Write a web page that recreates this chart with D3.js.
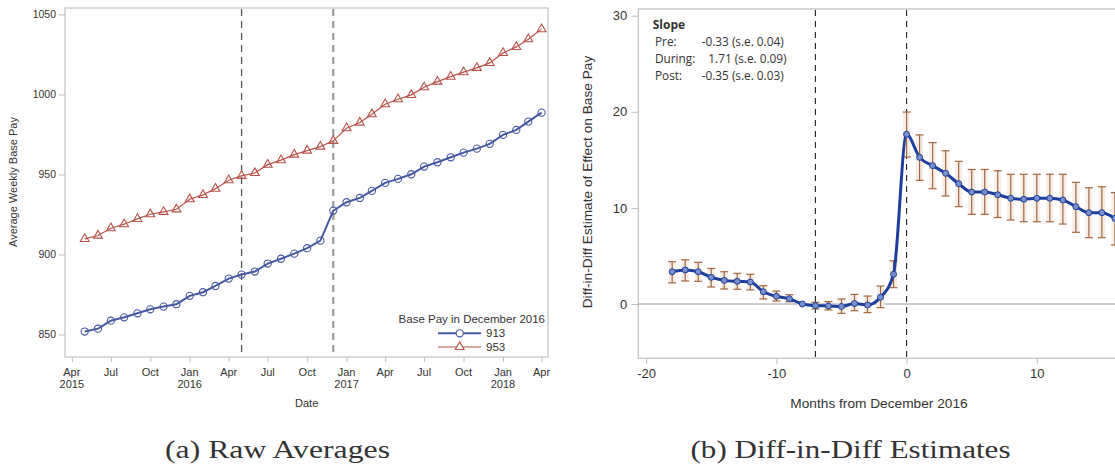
<!DOCTYPE html>
<html>
<head>
<meta charset="utf-8">
<script src="https://cdn.jsdelivr.net/npm/d3@7"></script>
<style>
  body { margin: 0; background: #fff; }
  svg { display: block; }
  text { font-family: "Liberation Sans", Arial, sans-serif; fill: #333; }
</style>
</head>
<body>
<div id="container"></div>
<script>
/* DATA - panel (a): average weekly base pay, by month */
const months = [
  "2015-05","2015-06","2015-07","2015-08","2015-09","2015-10","2015-11","2015-12",
  "2016-01","2016-02","2016-03","2016-04","2016-05","2016-06","2016-07","2016-08",
  "2016-09","2016-10","2016-11","2016-12","2017-01","2017-02","2017-03","2017-04",
  "2017-05","2017-06","2017-07","2017-08","2017-09","2017-10","2017-11","2017-12",
  "2018-01","2018-02","2018-03","2018-04"
];
const pay913 = [851.8, 853.6, 858.6, 860.7, 863.2, 865.7, 867.4, 868.9,
  874.1, 876.4, 880.3, 884.9, 887.4, 889.3, 894.3, 897.3, 900.5, 903.9, 908.6, 927.4,
  932.6, 935.3, 939.7, 944.7, 947.2, 950.1, 954.9, 957.6, 960.7, 963.6, 966.1, 969.1,
  974.7, 977.8, 983.0, 988.6];
const pay953 = [909.7, 911.8, 916.4, 918.9, 922.2, 925.1, 926.6, 928.2,
  934.5, 937.2, 941.1, 946.4, 949.1, 950.9, 956.1, 958.9, 962.4, 964.9, 967.4, 971.0,
  978.9, 982.4, 987.6, 993.9, 997.0, 999.7, 1004.5, 1008.0, 1011.1, 1013.9, 1016.6, 1019.7,
  1025.9, 1029.7, 1034.5, 1040.8];
const eventMonthsA = ["2016-05", "2016-12"];
const yTicksA = [850, 900, 950, 1000, 1050];
const legendTitle = "Base Pay in December 2016";
const seriesNames = ["913", "953"];

/* DATA - panel (b): diff-in-diff estimates */
const relMonths = [-18,-17,-16,-15,-14,-13,-12,-11,-10,-9,-8,-7,-6,-5,-4,-3,-2,-1,
  0,1,2,3,4,5,6,7,8,9,10,11,12,13,14,15,16];
const estimate = [3.36, 3.54, 3.36, 2.78, 2.46, 2.36, 2.29, 1.28, 0.80, 0.55, 0, -0.17, -0.2, -0.25, 0.05, -0.1, 0.7, 3.09,
  17.66, 15.26, 14.4, 13.6, 12.52, 11.65, 11.65, 11.37, 11.0, 10.9, 11.0, 11.0, 10.82, 10.13, 9.5, 9.5, 8.9];
const ciLow = [2.2, 2.4, 2.36, 1.77, 1.56, 1.53, 1.46, 0.52, 0.31, 0.24, null, -0.52, -0.62, -0.97, -0.7, -0.9, -0.38, 1.7,
  15.3, 12.87, 12.0, 11.24, 10.13, 9.33, 9.33, 9.0, 8.74, 8.56, 8.56, 8.56, 8.32, 7.46, 6.9, 6.9, 6.14];
const ciHigh = [4.4, 4.6, 4.34, 3.7, 3.36, 3.19, 3.09, 1.9, 1.35, 0.97, null, 0.18, 0.24, 0.52, 1.0, 0.83, 1.87, 4.5,
  19.98, 17.6, 16.8, 15.95, 14.85, 14.0, 14.0, 13.87, 13.5, 13.5, 13.5, 13.5, 13.5, 12.66, 12.1, 12.2, 11.6];
const eventMonthsB = [-7, 0];
const xTicksB = [-20, -10, 0, 10];
const yTicksB = [0, 10, 20, 30];
const slopeRows = [["Pre:", "-0.33 (s.e. 0.04)"], ["During:", "1.71 (s.e. 0.09)"], ["Post:", "-0.35 (s.e. 0.03)"]];
const captions = ["(a) Raw Averages", "(b) Diff-in-Diff Estimates"];

const width = 1115, height = 469;
const svg = d3.select("#container").append("svg")
  .attr("width", width).attr("height", height);

/* ---------- panel (a) ---------- */
const A = { left: 65, right: 548, top: 8, bottom: 357 };
const parseMonth = d3.utcParse("%Y-%m");
const blue = "#4658a2", red = "#b8524a";

const xA = d3.scaleUtc()
  .domain([new Date(Date.UTC(2015, 2, 16)), new Date(Date.UTC(2018, 3, 16))])
  .range([A.left, A.right]);
const yA = d3.scaleLinear().domain([835.9, 1054]).range([A.bottom, A.top]);

const gA = svg.append("g");

gA.append("rect")
  .attr("x", A.left).attr("y", A.top)
  .attr("width", A.right - A.left).attr("height", A.bottom - A.top)
  .attr("fill", "none").attr("stroke", "#c6c6c6").attr("stroke-width", 1.3);

const yAxisA = gA.append("g")
  .attr("transform", `translate(${A.left},0)`)
  .call(d3.axisLeft(yA).tickValues(yTicksA).tickSize(6).tickPadding(3).tickFormat(d => String(d)));
yAxisA.select(".domain").remove();
yAxisA.selectAll("line").attr("stroke", "#bdbdbd");
yAxisA.selectAll("text").style("font-size", "10.5px").attr("fill", "#333");

const xTickDates = d3.utcMonth.every(3).range(new Date(Date.UTC(2015, 3, 1)), new Date(Date.UTC(2018, 4, 1)));
const xAxisA = gA.append("g")
  .attr("transform", `translate(0,${A.bottom})`)
  .call(d3.axisBottom(xA).tickValues(xTickDates).tickSize(5).tickFormat(() => ""));
xAxisA.select(".domain").remove();
xAxisA.selectAll("line").attr("stroke", "#bdbdbd");

const monthFmt = d3.utcFormat("%b"), yearFmt = d3.utcFormat("%Y");
xTickDates.forEach((d, i) => {
  const t = gA.append("text")
    .attr("text-anchor", "middle")
    .style("font-size", "11px");
  t.append("tspan").attr("x", xA(d)).attr("y", 375.5).text(monthFmt(d));
  if (i === 0 || d.getUTCMonth() === 0) {
    t.append("tspan").attr("x", xA(d)).attr("y", 387.5).text(yearFmt(d));
  }
});

// event lines
eventMonthsA.forEach((m, i) => {
  gA.append("line")
    .attr("x1", xA(parseMonth(m))).attr("x2", xA(parseMonth(m)))
    .attr("y1", A.top + 1).attr("y2", A.bottom)
    .attr("stroke", i === 0 ? "#555" : "#9a9a9a")
    .attr("stroke-width", i === 0 ? 1.3 : 2.2)
    .attr("stroke-dasharray", "7,5");
});

const lineA = (vals) => d3.line()
  .x((d, i) => xA(parseMonth(months[i])))
  .y(d => yA(d))(vals);

gA.append("path").attr("d", lineA(pay953))
  .attr("fill", "none").attr("stroke", red).attr("stroke-width", 1.2);
gA.append("path").attr("d", lineA(pay913))
  .attr("fill", "none").attr("stroke", blue).attr("stroke-width", 2);

const tri = d3.symbol().type(d3.symbolTriangle).size(34);
gA.selectAll("path.tri")
  .data(pay953)
  .join("path")
  .attr("class", "tri")
  .attr("d", tri)
  .attr("transform", (d, i) => `translate(${xA(parseMonth(months[i]))},${yA(d)})`)
  .attr("fill", "none").attr("stroke", red).attr("stroke-width", 1.1);

gA.selectAll("circle.c913")
  .data(pay913)
  .join("circle")
  .attr("class", "c913")
  .attr("cx", (d, i) => xA(parseMonth(months[i])))
  .attr("cy", d => yA(d))
  .attr("r", 3.6)
  .attr("fill", "none").attr("stroke", blue).attr("stroke-width", 1.1);

// axis titles
gA.append("text")
  .attr("transform", "translate(17,182) rotate(-90)")
  .attr("text-anchor", "middle")
  .style("font-size", "11px")
  .text("Average Weekly Base Pay");
gA.append("text")
  .attr("x", 306.7).attr("y", 406.5)
  .attr("text-anchor", "middle")
  .style("font-size", "11px")
  .text("Date");

// legend
gA.append("text")
  .attr("x", 545).attr("y", 322.5)
  .attr("text-anchor", "end")
  .style("font-size", "11.5px")
  .text(legendTitle);
[blue, red].forEach((c, i) => {
  const ly = 333.3 + i * 13.7;
  gA.append("line").attr("x1", 438).attr("x2", 481).attr("y1", ly).attr("y2", ly)
    .attr("stroke", c).attr("stroke-width", i === 0 ? 2 : 1.2);
  if (i === 0) {
    gA.append("circle").attr("cx", 459.7).attr("cy", ly).attr("r", 3.6)
      .attr("fill", "#fff").attr("stroke", c).attr("stroke-width", 1.1);
  } else {
    gA.append("path").attr("d", tri).attr("transform", `translate(459.7,${ly})`)
      .attr("fill", "#fff").attr("stroke", c).attr("stroke-width", 1.1);
  }
  gA.append("text").attr("x", 486).attr("y", ly + 4)
    .style("font-size", "11.5px").text(seriesNames[i]);
});

/* ---------- panel (b) ---------- */
const B = { left: 638.3, right: 1128, top: 9, bottom: 358.3 };
const xB = d3.scaleLinear().domain([-20.6, 17]).range([B.left, B.left + 37.6 * 13.023]);
const yB = d3.scaleLinear().domain([-5.65, 30.7]).range([B.bottom, B.top]);
const navy = "#1d3f9b", brown = "#a3673f";

const gB = svg.append("g");

gB.append("rect")
  .attr("x", B.left).attr("y", B.top)
  .attr("width", B.right - B.left).attr("height", B.bottom - B.top)
  .attr("fill", "none").attr("stroke", "#c8c8c8").attr("stroke-width", 1.5);

const yAxisB = gB.append("g")
  .attr("transform", `translate(${B.left},0)`)
  .call(d3.axisLeft(yB).tickValues(yTicksB).tickSize(7).tickPadding(4).tickFormat(d => String(d)));
yAxisB.select(".domain").remove();
yAxisB.selectAll("line").attr("stroke", "#bdbdbd");
yAxisB.selectAll("text").style("font-size", "13px").attr("fill", "#333");

const xAxisB = gB.append("g")
  .attr("transform", `translate(0,${B.bottom})`)
  .call(d3.axisBottom(xB).tickValues(xTicksB).tickSize(6).tickPadding(4).tickFormat(d => String(d)));
xAxisB.select(".domain").remove();
xAxisB.selectAll("line").attr("stroke", "#bdbdbd");
xAxisB.selectAll("text").style("font-size", "13px").attr("fill", "#333");

// zero reference line
gB.append("line")
  .attr("x1", B.left).attr("x2", B.right)
  .attr("y1", yB(0)).attr("y2", yB(0))
  .attr("stroke", "#9a9a9a").attr("stroke-width", 1);

eventMonthsB.forEach(m => {
  gB.append("line")
    .attr("x1", xB(m)).attr("x2", xB(m))
    .attr("y1", B.top + 1).attr("y2", B.bottom)
    .attr("stroke", "#222").attr("stroke-width", 1.1)
    .attr("stroke-dasharray", "6,5");
});

const bars = relMonths.map((m, i) => ({ m, lo: ciLow[i], hi: ciHigh[i] })).filter(d => d.lo !== null);
// faint halo behind the error bars
gB.selectAll("line.halo").data(bars).join("line").attr("class", "halo")
  .attr("x1", d => xB(d.m)).attr("x2", d => xB(d.m))
  .attr("y1", d => yB(d.lo)).attr("y2", d => yB(d.hi))
  .attr("stroke", "#f6ede6").attr("stroke-width", 7);
const eb = gB.selectAll("g.eb").data(bars).join("g").attr("class", "eb")
  .attr("stroke", brown).attr("stroke-width", 1.2);
eb.append("line")
  .attr("x1", d => xB(d.m)).attr("x2", d => xB(d.m))
  .attr("y1", d => yB(d.lo)).attr("y2", d => yB(d.hi));
eb.append("line")
  .attr("x1", d => xB(d.m) - 4).attr("x2", d => xB(d.m) + 4)
  .attr("y1", d => yB(d.lo)).attr("y2", d => yB(d.lo));
eb.append("line")
  .attr("x1", d => xB(d.m) - 4).attr("x2", d => xB(d.m) + 4)
  .attr("y1", d => yB(d.hi)).attr("y2", d => yB(d.hi));

const lineB = d3.line()
  .x((d, i) => xB(relMonths[i]))
  .y(d => yB(d))
  .curve(d3.curveMonotoneX);
gB.append("path").attr("d", lineB(estimate))
  .attr("fill", "none").attr("stroke", navy).attr("stroke-width", 3);

gB.selectAll("circle.est")
  .data(estimate)
  .join("circle")
  .attr("class", "est")
  .attr("cx", (d, i) => xB(relMonths[i]))
  .attr("cy", d => yB(d))
  .attr("r", 3)
  .attr("fill", "#7a90cc").attr("stroke", navy).attr("stroke-width", 1);

// slope annotation
gB.append("text")
  .attr("x", 652.7).attr("y", 28.5)
  .style("font-family", "'Open Sans', sans-serif")
  .style("font-size", "12px").style("font-weight", "bold").attr("fill", "#111")
  .text("Slope");
slopeRows.forEach((r, i) => {
  const ty = 46 + i * 17;
  gB.append("text").attr("x", 655).attr("y", ty)
    .style("font-family", "'Open Sans', sans-serif").style("font-size", "11.8px").attr("fill", "#111")
    .text(r[0]);
  gB.append("text").attr("x", r[1].startsWith("-") ? 701.7 : 708.3).attr("y", ty)
    .style("font-family", "'Open Sans', sans-serif").style("font-size", "11.8px").attr("fill", "#111")
    .text(r[1]);
});

gB.append("text")
  .attr("transform", "translate(592,182) rotate(-90)")
  .attr("text-anchor", "middle")
  .style("font-size", "13.7px")
  .text("Diff-in-Diff Estimate of Effect on Base Pay");
gB.append("text")
  .attr("x", 879).attr("y", 407.5)
  .attr("text-anchor", "middle")
  .style("font-size", "13.7px")
  .text("Months from December 2016");

/* ---------- captions ---------- */
const capWidths = [225, 320];
[277.5, 850.5].forEach((cx, i) => {
  svg.append("text")
    .attr("x", cx).attr("y", 458.3)
    .attr("text-anchor", "middle")
    .attr("textLength", capWidths[i])
    .attr("lengthAdjust", "spacingAndGlyphs")
    .style("font-family", "'Liberation Serif', 'Times New Roman', serif")
    .style("font-size", "25.5px").attr("fill", "#000")
    .text(captions[i]);
});
</script>
</body>
</html>
